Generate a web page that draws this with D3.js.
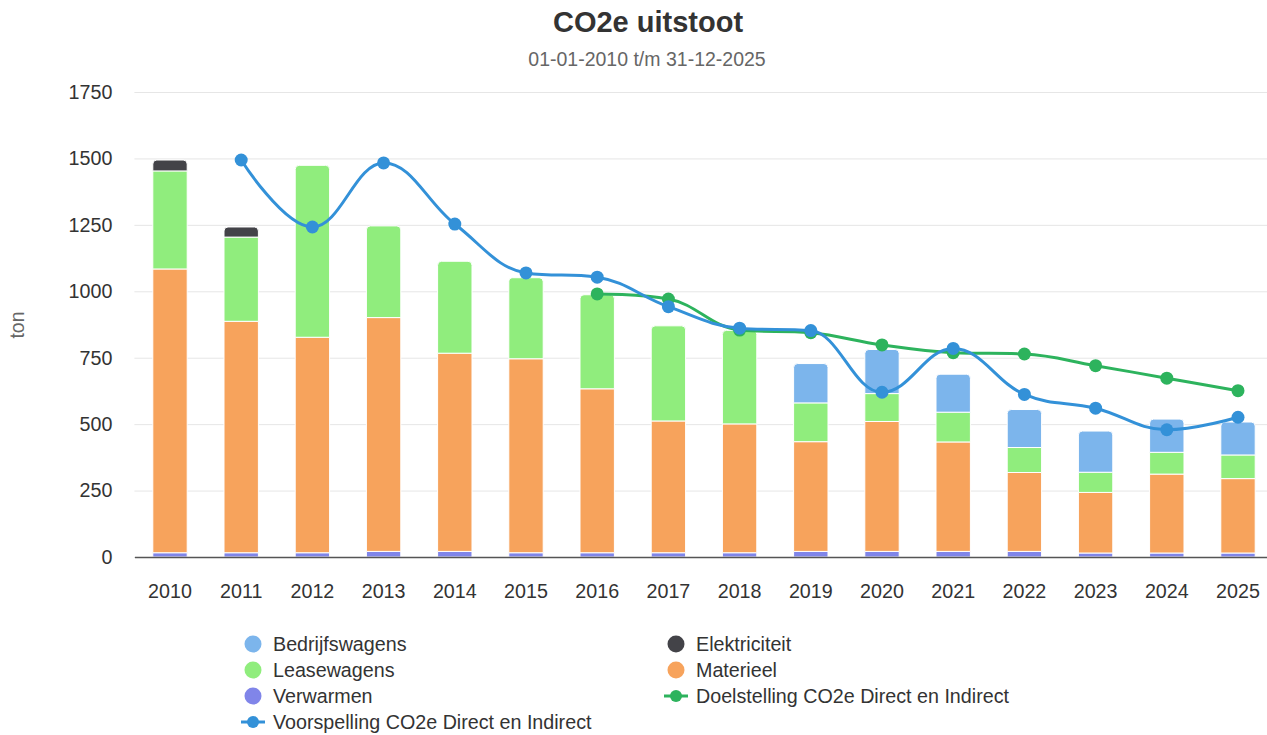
<!DOCTYPE html>
<html>
<head>
<meta charset="utf-8">
<script src="https://cdn.jsdelivr.net/npm/d3@7"></script>
<style>
  body { margin: 0; background: #fff; }
  svg { font-family: "Liberation Sans", Arial, sans-serif; }
</style>
</head>
<body>
<div id="chart"></div>
<script>
// Data
const years = ["2010","2011","2012","2013","2014","2015","2016","2017","2018","2019","2020","2021","2022","2023","2024","2025"];
const bedrijfswagens = [0, 0, 0, 0, 0, 0, 0, 0, 0, 148, 166, 143, 143, 155, 125, 124];
const elektriciteit  = [41, 38, 0, 0, 0, 0, 0, 0, 0, 0, 0, 0, 0, 0, 0, 0];
const leasewagens    = [369, 317, 647, 345, 346, 305, 354, 358, 352, 146, 105, 112, 94, 76, 82, 89];
const materieel      = [1068, 871, 811, 880, 746, 730, 617, 496, 485, 413, 489, 412, 297, 228, 297, 280];
const verwarmen      = [16, 16, 16, 21, 21, 16, 16, 16, 16, 21, 21, 21, 21, 15, 15, 15];
const doelstelling   = [null, null, null, null, null, null, 990, 971, 854, 844, 798, 769, 764, 720, 673, 626];
const voorspelling   = [null, 1494, 1242, 1483, 1253, 1069, 1053, 942, 861, 852, 620, 785, 612, 560, 479, 526];
const yTicks = [0, 250, 500, 750, 1000, 1250, 1500, 1750];

const width = 1267, height = 735;
const margin = { top: 92, bottom: 178, left: 134.4 };

const svg = d3.select("#chart").append("svg")
  .attr("width", width)
  .attr("height", height);

const x = d3.scaleBand()
  .domain(years)
  .range([margin.left, margin.left + 71.2 * years.length])
  .paddingInner(0.517)
  .paddingOuter(0.2585);

const y = d3.scaleLinear()
  .domain([0, 1750])
  .range([height - margin.bottom, margin.top]);

// Title
svg.append("text")
  .attr("x", 648).attr("y", 32)
  .attr("text-anchor", "middle")
  .attr("font-size", "29px").attr("font-weight", "bold")
  .attr("fill", "#333")
  .text("CO2e uitstoot");

svg.append("text")
  .attr("x", 647).attr("y", 66)
  .attr("text-anchor", "middle")
  .attr("font-size", "19.5px")
  .attr("fill", "#666")
  .text("01-01-2010 t/m 31-12-2025");

// Grid + y axis
const yAxis = svg.append("g")
  .attr("transform", `translate(${margin.left},0)`)
  .call(d3.axisLeft(y).tickValues(yTicks).tickFormat(d3.format("d"))
    .tickSize(-(width - margin.left)).tickPadding(22));
yAxis.select(".domain").remove();
yAxis.selectAll(".tick line").attr("stroke", "#e6e6e6");
yAxis.selectAll(".tick text")
  .attr("font-size", "19.7px").attr("fill", "#333")
  .attr("font-family", "Liberation Sans, Arial, sans-serif");

svg.append("text")
  .attr("transform", "rotate(-90)")
  .attr("x", -325).attr("y", 24)
  .attr("text-anchor", "middle")
  .attr("font-size", "19.5px")
  .attr("fill", "#666")
  .text("ton");

// Stacked bars
const series = [
  { name: "Bedrijfswagens", values: bedrijfswagens, color: "#7cb5ec" },
  { name: "Elektriciteit", values: elektriciteit, color: "#434348" },
  { name: "Leasewagens", values: leasewagens, color: "#90ed7d" },
  { name: "Materieel", values: materieel, color: "#f7a35c" },
  { name: "Verwarmen", values: verwarmen, color: "#8085e9" }
];
const stackOrder = series.slice().reverse(); // bottom first

const barG = svg.append("g");
years.forEach((yr, i) => {
  let base = 0;
  const segs = [];
  stackOrder.forEach(s => {
    const v = s.values[i];
    if (v > 0) { segs.push({ y0: base, y1: base + v, color: s.color }); base += v; }
  });
  segs.forEach((sg, k) => {
    const x0 = x(yr), w = x.bandwidth();
    const top = y(sg.y1), bot = y(sg.y0);
    const r = k === segs.length - 1 ? 4 : 0;
    const p = d3.path();
    p.moveTo(x0, bot);
    p.lineTo(x0, top + r);
    if (r) p.arcTo(x0, top, x0 + r, top, r);
    p.lineTo(x0 + w - r, top);
    if (r) p.arcTo(x0 + w, top, x0 + w, top + r, r);
    p.lineTo(x0 + w, bot);
    p.closePath();
    barG.append("path")
      .attr("d", p.toString())
      .attr("fill", sg.color)
      .attr("stroke", "#fff")
      .attr("stroke-width", 1);
  });
});

// X axis
const xAxis = svg.append("g")
  .attr("transform", `translate(0,${y(0)})`)
  .call(d3.axisBottom(x).tickSize(0).tickPadding(27));
xAxis.select(".domain").attr("stroke", "#555").attr("stroke-width", 1.5);
xAxis.selectAll(".tick text")
  .attr("font-size", "19.7px").attr("fill", "#333")
  .attr("font-family", "Liberation Sans, Arial, sans-serif");

// Spline like Highcharts (smoothing 1.5)
function splinePath(pts) {
  const sm = 1.5, den = sm + 1;
  const c = pts.map(p => ({ x: p[0], y: p[1], lx: p[0], ly: p[1], rx: p[0], ry: p[1] }));
  for (let i = 1; i < c.length - 1; i++) {
    const a = c[i - 1], p = c[i], n = c[i + 1];
    let lx = (sm * p.x + a.x) / den, ly = (sm * p.y + a.y) / den;
    let rx = (sm * p.x + n.x) / den, ry = (sm * p.y + n.y) / den;
    let corr = 0;
    if (rx !== lx) corr = ((ry - ly) * (rx - p.x)) / (rx - lx) + p.y - ry;
    ly += corr; ry += corr;
    if (ly > a.y && ly > p.y) { ly = Math.max(a.y, p.y); ry = 2 * p.y - ly; }
    else if (ly < a.y && ly < p.y) { ly = Math.min(a.y, p.y); ry = 2 * p.y - ly; }
    if (ry > n.y && ry > p.y) { ry = Math.max(n.y, p.y); ly = 2 * p.y - ry; }
    else if (ry < n.y && ry < p.y) { ry = Math.min(n.y, p.y); ly = 2 * p.y - ry; }
    p.lx = lx; p.ly = ly; p.rx = rx; p.ry = ry;
  }
  const path = d3.path();
  path.moveTo(c[0].x, c[0].y);
  for (let i = 1; i < c.length; i++) {
    path.bezierCurveTo(c[i - 1].rx, c[i - 1].ry, c[i].lx, c[i].ly, c[i].x, c[i].y);
  }
  return path.toString();
}

const lines = [
  { name: "Doelstelling CO2e Direct en Indirect", values: doelstelling, color: "#2db35d" },
  { name: "Voorspelling CO2e Direct en Indirect", values: voorspelling, color: "#3391d8" }
];
lines.forEach(l => {
  const pts = years.map((yr, i) => [x(yr) + x.bandwidth() / 2, l.values[i]])
    .filter(d => d[1] != null)
    .map(d => [d[0], y(d[1])]);
  svg.append("path")
    .attr("d", splinePath(pts))
    .attr("fill", "none")
    .attr("stroke", l.color)
    .attr("stroke-width", 3);
  svg.append("g").selectAll("circle").data(pts).join("circle")
    .attr("cx", d => d[0]).attr("cy", d => d[1])
    .attr("r", 6.5).attr("fill", l.color);
});

// Legend
const legendItems = [
  { name: "Bedrijfswagens", color: "#7cb5ec", type: "dot" },
  { name: "Elektriciteit", color: "#434348", type: "dot" },
  { name: "Leasewagens", color: "#90ed7d", type: "dot" },
  { name: "Materieel", color: "#f7a35c", type: "dot" },
  { name: "Verwarmen", color: "#8085e9", type: "dot" },
  { name: lines[0].name, color: lines[0].color, type: "line" },
  { name: lines[1].name, color: lines[1].color, type: "line" }
];
const colX = [253, 676];
const legend = svg.append("g");
legendItems.forEach((it, i) => {
  const cx = colX[i % 2], cy = 644 + Math.floor(i / 2) * 26;
  const g = legend.append("g");
  if (it.type === "dot") {
    g.append("circle").attr("cx", cx).attr("cy", cy).attr("r", 8.5).attr("fill", it.color);
  } else {
    g.append("line").attr("x1", cx - 12).attr("x2", cx + 12).attr("y1", cy).attr("y2", cy)
      .attr("stroke", it.color).attr("stroke-width", 3);
    g.append("circle").attr("cx", cx).attr("cy", cy).attr("r", 6).attr("fill", it.color);
  }
  g.append("text")
    .attr("x", cx + 20).attr("y", cy)
    .attr("dy", "0.35em")
    .attr("font-size", "19.7px").attr("fill", "#333")
    .text(it.name);
});
</script>
</body>
</html>
